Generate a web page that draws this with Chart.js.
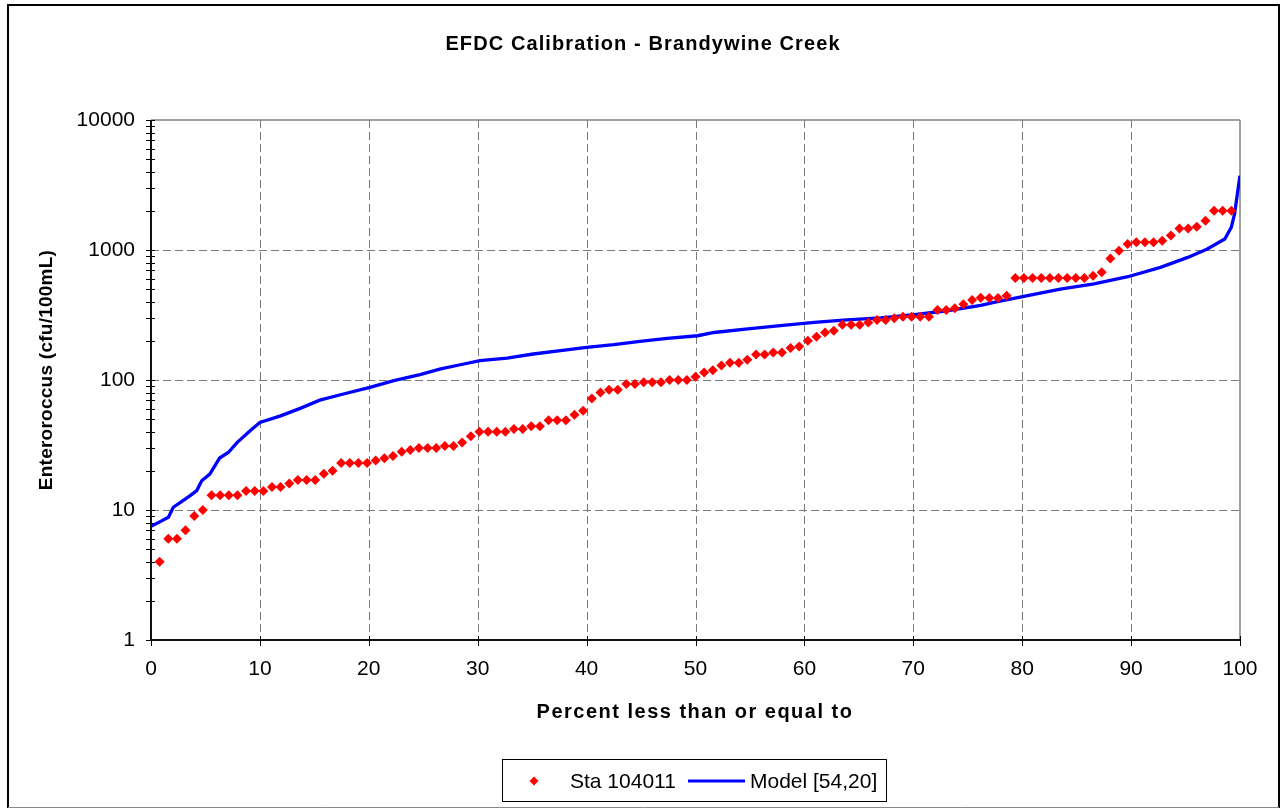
<!DOCTYPE html>
<html><head><meta charset="utf-8">
<script src="https://cdn.jsdelivr.net/npm/chart.js@4"></script>
<style>html,body{margin:0;padding:0;background:#fff;} canvas{display:block;}</style>
</head><body>
<canvas id="c" width="1281" height="809"></canvas>
<script>
const chartTitle = 'EFDC Calibration - Brandywine Creek';
const xTitle = 'Percent less than or equal to';
const yTitle = 'Enteroroccus (cfu/100mL)';
const xTicks = [0, 10, 20, 30, 40, 50, 60, 70, 80, 90, 100];
const yTicks = [1, 10, 100, 1000, 10000];
const staLabel = 'Sta 104011';
const modelLabel = 'Model [54,20]';

// Observed samples: percent rank and value
const staPct = [0.79,1.59,2.38,3.17,3.97,4.76,5.56,6.35,7.14,7.94,8.73,9.52,10.32,11.11,11.90,12.70,13.49,14.29,15.08,15.87,
  16.67,17.46,18.25,19.05,19.84,20.63,21.43,22.22,23.02,23.81,24.60,25.40,26.19,26.98,27.78,28.57,29.37,30.16,30.95,31.75,
  32.54,33.33,34.13,34.92,35.71,36.51,37.30,38.10,38.89,39.68,40.48,41.27,42.06,42.86,43.65,44.44,45.24,46.03,46.83,47.62,
  48.41,49.21,50.00,50.79,51.59,52.38,53.17,53.97,54.76,55.56,56.35,57.14,57.94,58.73,59.52,60.32,61.11,61.90,62.70,63.49,
  64.29,65.08,65.87,66.67,67.46,68.25,69.05,69.84,70.63,71.43,72.22,73.02,73.81,74.60,75.40,76.19,76.98,77.78,78.57,79.37,
  80.16,80.95,81.75,82.54,83.33,84.13,84.92,85.71,86.51,87.30,88.10,88.89,89.68,90.48,91.27,92.06,92.86,93.65,94.44,95.24,
  96.03,96.83,97.62,98.41,99.21];
const staValues = [4,6,6,7,9,10,13,13,13,13,14,14,14,15,15,16,17,17,17,19,
  20,23,23,23,23,24,25,26,28,29,30,30,30,31,31,33,37,40,40,40,
  40,42,42,44,44,49,49,49,54,58,72,80,84,84,93,93,96,96,96,100,
  100,100,106,114,119,129,136,136,143,157,157,163,163,176,181,200,215,232,239,266,
  266,266,277,289,289,298,307,307,307,307,345,345,356,382,413,430,427,427,445,609,
  609,609,609,609,609,609,609,609,634,673,861,988,1112,1145,1145,1145,1180,1290,1466,1466,
  1510,1680,2006,2006,2006];

// Model curve: percent and value
const modelPct = [0,0.8,1.6,2.05,2.67,3.6,4.2,4.66,5.4,6.3,7.1,7.9,9.1,10,11.9,13.7,15.5,17.4,20.1,22.3,
  24.7,26.6,28.4,30.2,32.7,35.1,37.6,40.0,42.5,44.9,47.4,50.2,51.7,54.8,57.8,60.9,63.9,67.0,70.1,73.1,
  76.2,77.4,80.5,83.5,86.6,89.7,92.7,95.2,97.0,98.6,99.2,99.5,99.8,100];
const modelValues = [7.5,8.1,8.8,10.5,11.4,12.9,14.1,16.8,18.9,25.1,27.7,33,40.7,47.2,53,60.5,70,77,87.7,98.8,
  110,121.6,131,140.7,147.5,158.5,168,178,186.8,198,209,219,232,247,262,277,290,300,318,341,
  375,395,445,501,548,623,735,877,1018,1216,1493,1892,2858,3730];

const FONT = "'Liberation Sans', Arial, sans-serif";

const framePlugin = {
  id: 'frame',
  beforeDatasetsDraw(chart) {
    const {ctx, chartArea: a, scales: {x, y}} = chart;
    const line = (x1, y1, x2, y2) => { ctx.beginPath(); ctx.moveTo(x1, y1); ctx.lineTo(x2, y2); ctx.stroke(); };
    ctx.save();
    ctx.strokeStyle = '#7a7a7a'; ctx.lineWidth = 1; ctx.setLineDash([8, 4]);
    xTicks.forEach(v => { if (v === xTicks[0] || v === xTicks[xTicks.length - 1]) return;
      const px = Math.round(x.getPixelForValue(v)) + 0.5; line(px, a.top, px, a.bottom); });
    yTicks.forEach(v => { if (v === yTicks[0] || v === yTicks[yTicks.length - 1]) return;
      const py = Math.round(y.getPixelForValue(v)) + 0.5; line(a.left, py, a.right, py); });
    ctx.setLineDash([]);
    ctx.strokeStyle = '#808080'; ctx.lineWidth = 1.5;
    line(a.left, a.top, a.right, a.top);
    line(a.right, a.top, a.right, a.bottom);
    // ticks
    ctx.strokeStyle = '#000'; ctx.lineWidth = 1;
    for (let d = 0; d < yTicks.length - 1; d++) {
      for (let m = 2; m <= 9; m++) {
        const py = Math.round(y.getPixelForValue(yTicks[d] * m)) + 0.5;
        line(a.left - 5, py, a.left + 4, py);
      }
    }
    yTicks.forEach(v => { const py = Math.round(y.getPixelForValue(v)) + 0.5; line(a.left - 5, py, a.left + 4, py); });
    xTicks.forEach(v => { const px = Math.round(x.getPixelForValue(v)) + 0.5; line(px, a.bottom - 4, px, a.bottom + 6); });
    ctx.strokeStyle = '#111'; ctx.lineWidth = 2;
    line(a.left, a.top, a.left, a.bottom + 1);
    line(a.left - 1, a.bottom, a.right, a.bottom);
    ctx.restore();
  },
  afterDraw(chart) {
    const {ctx} = chart;
    ctx.save();
    // outer border
    ctx.strokeStyle = '#000'; ctx.lineWidth = 2;
    ctx.beginPath(); ctx.moveTo(8, 808); ctx.lineTo(8, 5); ctx.lineTo(1279, 5); ctx.lineTo(1279, 808); ctx.stroke();
    ctx.strokeStyle = '#888'; ctx.lineWidth = 1;
    ctx.beginPath(); ctx.moveTo(8, 807.5); ctx.lineTo(1279, 807.5); ctx.stroke();
    ctx.fillStyle = '#000';
    ctx.textBaseline = 'middle'; ctx.textAlign = 'center';
    // title
    ctx.font = 'bold 20px ' + FONT; ctx.letterSpacing = '1.1px';
    ctx.fillText(chartTitle, 643, 44);
    // x title
    ctx.letterSpacing = '1.5px';
    ctx.fillText(xTitle, 695, 712);
    // y title
    ctx.font = 'bold 19px ' + FONT; ctx.letterSpacing = '0.25px';
    ctx.save(); ctx.translate(47, 370); ctx.rotate(-Math.PI / 2); ctx.fillText(yTitle, 0, 0); ctx.restore();
    // legend
    ctx.letterSpacing = '0px';
    ctx.strokeStyle = '#000'; ctx.lineWidth = 1;
    ctx.strokeRect(502.5, 759.5, 384, 42);
    const ly = 781;
    ctx.fillStyle = '#FF0000';
    ctx.beginPath(); ctx.moveTo(534, ly - 4.5); ctx.lineTo(538.5, ly); ctx.lineTo(534, ly + 4.5); ctx.lineTo(529.5, ly); ctx.closePath(); ctx.fill();
    ctx.strokeStyle = '#0000FF'; ctx.lineWidth = 3;
    ctx.beginPath(); ctx.moveTo(688, ly); ctx.lineTo(745, ly); ctx.stroke();
    ctx.fillStyle = '#000'; ctx.textAlign = 'left';
    ctx.font = '21px ' + FONT;
    ctx.fillText(staLabel, 570, ly + 1);
    ctx.fillText(modelLabel, 750, ly + 1);
    ctx.restore();
  }
};

new Chart(document.getElementById('c'), {
  type: 'scatter',
  data: {
    datasets: [
      {
        label: staLabel,
        data: staPct.map((p, i) => ({x: p, y: staValues[i]})),
        pointStyle: 'rectRot', pointRadius: 5, pointHoverRadius: 5,
        backgroundColor: '#FF0000', borderColor: '#FF0000', borderWidth: 0,
        showLine: false, order: 0
      },
      {
        label: modelLabel,
        data: modelPct.map((p, i) => ({x: p, y: modelValues[i]})),
        showLine: true, borderColor: '#0000FF', backgroundColor: '#0000FF', borderWidth: 3.3,
        pointRadius: 0, pointHoverRadius: 0, tension: 0, fill: false, order: 1
      }
    ]
  },
  options: {
    responsive: false, animation: false, devicePixelRatio: 1,
    layout: {padding: {left: 0, right: 41, top: 120, bottom: 0}},
    plugins: {legend: {display: false}, title: {display: false}, tooltip: {enabled: false}},
    scales: {
      x: {
        type: 'linear', min: 0, max: 100,
        afterBuildTicks: s => { s.ticks = xTicks.map(v => ({value: v})); },
        ticks: {font: {family: FONT, size: 21}, color: '#000', padding: 17, maxRotation: 0, autoSkip: false},
        grid: {display: false, drawTicks: false}, border: {display: false},
        afterFit: s => { s.height = 169; }
      },
      y: {
        type: 'logarithmic', min: 1, max: 10000,
        afterBuildTicks: s => { s.ticks = yTicks.map(v => ({value: v})); },
        ticks: {font: {family: FONT, size: 21}, color: '#000', padding: 16, autoSkip: false, callback: v => String(v)},
        grid: {display: false, drawTicks: false}, border: {display: false},
        afterFit: s => { s.width = 151; }
      }
    }
  },
  plugins: [framePlugin]
});
</script>
</body></html>
